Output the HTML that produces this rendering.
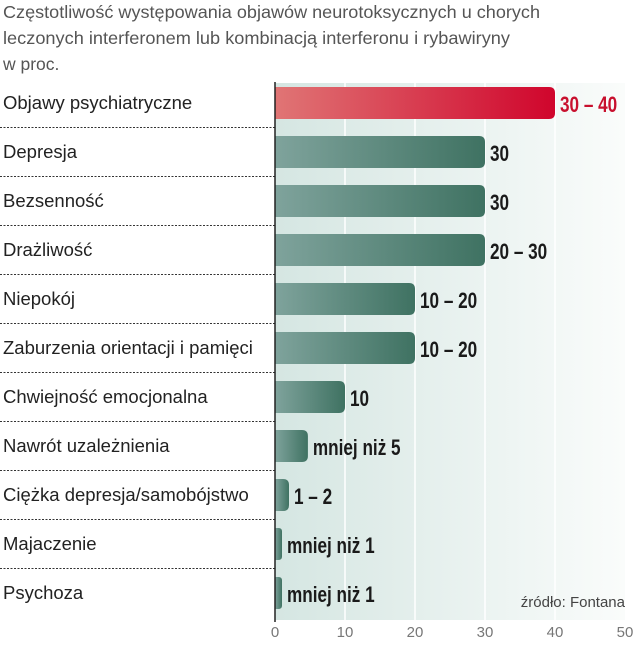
<!DOCTYPE html>
<html><head><meta charset="utf-8"><style>
body{margin:0;background:#fff;width:640px;height:640px;overflow:hidden;font-family:"Liberation Sans",sans-serif}
</style></head><body>
<svg width="640" height="640" xmlns="http://www.w3.org/2000/svg">
<defs>
<linearGradient id="panel" x1="0" x2="1" y1="0" y2="0"><stop offset="0" stop-color="#d5e6e2"/><stop offset="1" stop-color="#fafcfb"/></linearGradient>
<linearGradient id="green" x1="0" x2="1" y1="0" y2="0"><stop offset="0" stop-color="#7fa39c"/><stop offset="1" stop-color="#3f7262"/></linearGradient>
<linearGradient id="red" x1="0" x2="1" y1="0" y2="0"><stop offset="0" stop-color="#e07575"/><stop offset="1" stop-color="#d0052c"/></linearGradient>
</defs>
<g fill="#555" font-size="17.5">
<text x="3" y="18" textLength="537" lengthAdjust="spacingAndGlyphs">Częstotliwość występowania objawów neurotoksycznych u chorych</text>
<text x="3" y="44" textLength="507" lengthAdjust="spacingAndGlyphs">leczonych interferonem lub kombinacją interferonu i rybawiryny</text>
<text x="3" y="70">w proc.</text>
</g>
<rect x="275" y="83" width="350" height="537" fill="url(#panel)"/>
<g id="grid"></g>
<g id="bars"></g>
<line x1="275" y1="82" x2="275" y2="622" stroke="#222" stroke-width="1.5"/>
<g id="ticks"></g>
<text x="625" y="607" text-anchor="end" font-size="15" fill="#444">źródło: Fontana</text>
</svg>
<script>
const categories=["Objawy psychiatryczne","Depresja","Bezsenność","Drażliwość","Niepokój","Zaburzenia orientacji i pamięci","Chwiejność emocjonalna","Nawrót uzależnienia","Ciężka depresja/samobójstwo","Majaczenie","Psychoza"];
const values=[40,30,30,30,20,20,10,4.7,2,1,1];
const valueLabels=["30 – 40","30","30","20 – 30","10 – 20","10 – 20","10","mniej niż 5","1 – 2","mniej niż 1","mniej niż 1"];
const tickValues=[0,10,20,30,40,50];
const NS="http://www.w3.org/2000/svg";
const x=v=>275+v*7;
const yc=i=>103+i*49;
function mk(t,a,p){const e=document.createElementNS(NS,t);for(const k in a)e.setAttribute(k,a[k]);p.appendChild(e);return e;}
const grid=document.getElementById('grid'),bars=document.getElementById('bars'),ticks=document.getElementById('ticks');
tickValues.forEach(t=>{
 if(t>0&&t<50){const l=mk('line',{x1:x(t),x2:x(t),y1:83,y2:620,stroke:'#fff','stroke-width':1.5},grid);
 
 }
 const tx=mk('text',{x:x(t),y:637,'text-anchor':'middle','font-size':15,fill:'#777'},ticks);
 tx.textContent=t;
 
 
});
categories.forEach((c,i)=>{
 const y=yc(i);
 const lab=mk('text',{x:3,y:y+6,'font-size':18.5,fill:'#222'},bars);
 lab.textContent=c;
 
 
 if(i>0){const d=mk('line',{x1:0,x2:275,y1:y-24.5,y2:y-24.5,stroke:'#333','stroke-dasharray':'2,1.5','stroke-width':1},bars);
 
 }
 const w=x(values[i])-275,r=Math.min(6,w/2),t=y-16,b=y+16,L=275,R=L+w;
 const p=mk('path',{d:`M${L},${t}H${R-r}Q${R},${t} ${R},${t+r}V${b-r}Q${R},${b} ${R-r},${b}H${L}Z`,fill:i==0?'url(#red)':'url(#green)'},bars);
 
 
 const v=mk('text',{transform:`translate(${R+5},${y+9}) scale(0.78,1)`,'font-size':22,'font-weight':'bold',fill:i==0?'#c8102e':'#1a1a1a'},bars);
 v.textContent=valueLabels[i];
 
 
});
</script>
</body></html>
